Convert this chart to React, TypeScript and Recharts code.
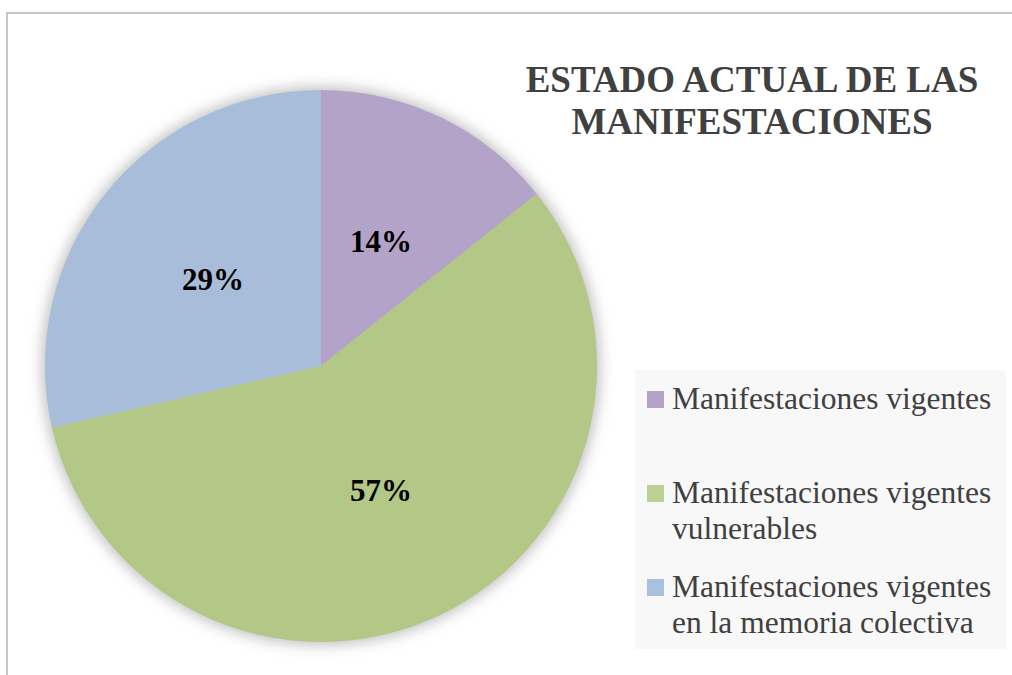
import React from 'react';
import { PieChart, Pie, Cell, Legend } from 'recharts';

const categories = [
  'Manifestaciones vigentes',
  'Manifestaciones vigentes vulnerables',
  'Manifestaciones vigentes en la memoria colectiva',
];
const values = [1, 4, 2];
const sliceColors = ['#b3a3c8', '#b3c786', '#a7bdda'];
const legendColors = ['#b3a2c7', '#bcd093', '#a9c0de'];
const legendLines = [
  ['Manifestaciones vigentes'],
  ['Manifestaciones vigentes', 'vulnerables'],
  ['Manifestaciones vigentes', 'en la memoria colectiva'],
];
const titleLines = ['ESTADO ACTUAL DE LAS', 'MANIFESTACIONES'];

const data = categories.map((name, i) => ({ name, value: values[i] }));
const shadowData = [{ name: 'shadow', value: 1 }];

const FONT = '"Liberation Serif", "Times New Roman", serif';
const RAD = Math.PI / 180;

const renderLabel = (props: any) => {
  const { cx, cy, midAngle, outerRadius, percent } = props;
  const r = outerRadius * 0.5;
  const x = cx + r * Math.cos(-midAngle * RAD);
  const y = cy + r * Math.sin(-midAngle * RAD);
  return (
    <text
      x={x}
      y={y}
      textAnchor="middle"
      dominantBaseline="central"
      fill="#000000"
      style={{ fontFamily: FONT, fontSize: 31, fontWeight: 'bold' }}
    >
      {`${Math.round((percent || 0) * 100)}%`}
    </text>
  );
};

const renderLegend = () => {
  return (
    <div
      style={{
        position: 'relative',
        width: 371,
        height: 279,
        background: '#f8f8f8',
        fontFamily: FONT,
        fontSize: 31.5,
        lineHeight: '36px',
        color: '#404040',
      }}
    >
      {categories.map((c, i) => (
        <div
          key={c}
          style={{ position: 'absolute', left: 12, top: 11 + i * 94, whiteSpace: 'nowrap' }}
        >
          <span
            style={{
              position: 'absolute',
              left: 0,
              top: 10,
              width: 17,
              height: 17,
              background: legendColors[i],
            }}
          />
          <div style={{ marginLeft: 25 }}>
            {(legendLines[i] || [c]).map((l, j) => (
              <div key={j}>{l}</div>
            ))}
          </div>
        </div>
      ))}
    </div>
  );
};

export default function App() {
  return (
    <div
      style={{
        position: 'fixed',
        left: 0,
        top: 0,
        width: 1012,
        height: 675,
        overflow: 'hidden',
        background: '#ffffff',
      }}
    >
      <div
        style={{
          position: 'absolute',
          left: 6,
          top: 12,
          width: 1100,
          height: 800,
          border: '2px solid #c6c6c6',
          boxSizing: 'border-box',
        }}
      />
      <div style={{ position: 'absolute', left: 0, top: 0 }}>
        <PieChart width={1012} height={675} margin={{ top: 0, right: 0, bottom: 0, left: 0 }}>
          <defs>
            <filter id="pieGlow" x="-20%" y="-20%" width="140%" height="140%">
              <feGaussianBlur stdDeviation="7" />
            </filter>
          </defs>
          <Pie
            data={shadowData}
            dataKey="value"
            cx={321}
            cy={366}
            outerRadius={279}
            startAngle={90}
            endAngle={-270}
            stroke="none"
            isAnimationActive={false}
            legendType="none"
          >
            <Cell fill="#c0c0c0" filter="url(#pieGlow)" />
          </Pie>
          <Pie
            data={data}
            dataKey="value"
            nameKey="name"
            cx={321}
            cy={366}
            outerRadius={276}
            startAngle={90}
            endAngle={-270}
            stroke="none"
            label={renderLabel}
            labelLine={false}
            isAnimationActive={false}
          >
            {data.map((d, i) => (
              <Cell key={d.name} fill={sliceColors[i]} />
            ))}
          </Pie>
          <Legend
            content={renderLegend}
            wrapperStyle={{ position: 'absolute', left: 635, top: 370, width: 371, height: 279 }}
          />
        </PieChart>
      </div>
      <div
        style={{
          position: 'absolute',
          left: 752 - 300,
          top: 59,
          width: 600,
          textAlign: 'center',
          fontFamily: FONT,
          fontSize: 37,
          fontWeight: 'bold',
          lineHeight: '42px',
          color: '#404040',
        }}
      >
        {titleLines.map((l, i) => (
          <div key={i}>{l}</div>
        ))}
      </div>
    </div>
  );
}
